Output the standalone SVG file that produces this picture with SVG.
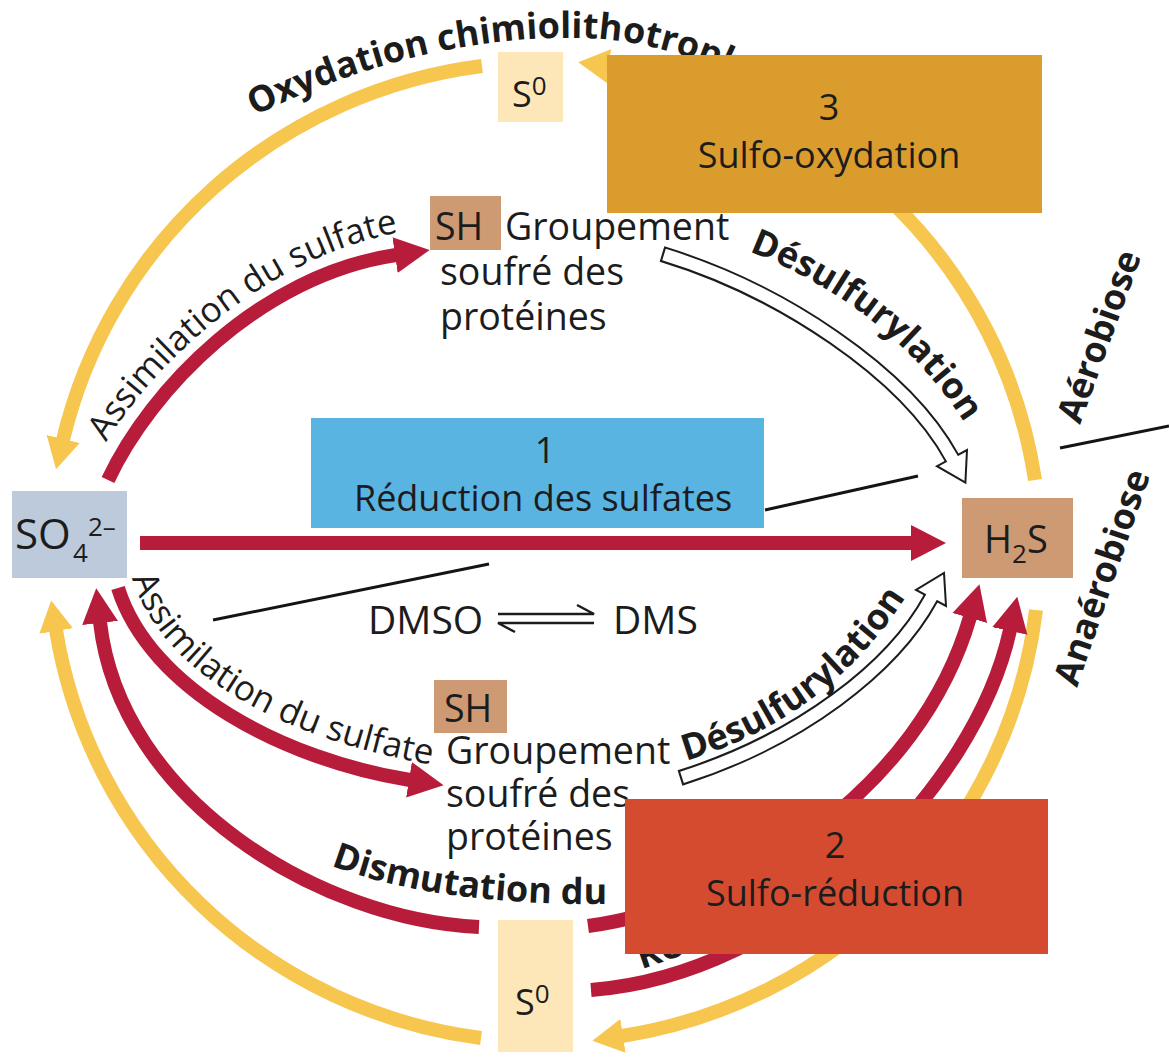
<svg xmlns="http://www.w3.org/2000/svg" width="1169" height="1058" viewBox="0 0 1169 1058">
  <defs>
    <style>
      .txt{font-family:"Open Sans","Noto Sans","Liberation Sans",sans-serif;fill:#1c1c1c}
      .reg{font-size:36px}
      .node{font-size:37.5px}
      .lbl{font-size:35px}
      .bold{font-weight:700;font-size:36px}
      .sub{font-size:26px}
      .arc-y{fill:none;stroke:#f6c64f;stroke-width:14}
      .arc-r{fill:none;stroke:#b71d3a;stroke-width:14}
      .divider{fill:none;stroke:#141414;stroke-width:3}
      .eq{fill:none;stroke:#1c1c1c;stroke-width:2.5}
      .hollow-out{fill:none;stroke:#1c1c1c;stroke-width:16}
      .hollow-in{fill:none;stroke:#ffffff;stroke-width:12}
      .hollow-head{fill:#ffffff;stroke:#1c1c1c;stroke-width:2}
      .pale{fill:#fde6b8}
      .tan{fill:#cd9a74}
    </style>
    <marker id="head-red" markerUnits="userSpaceOnUse" viewBox="-1 -20 37 40" markerWidth="37" markerHeight="40" refX="0" refY="0" orient="auto">
      <path d="M-1,-18 L34,0 L-1,18 Z" fill="#b71d3a"/>
    </marker>
    <marker id="head-yellow" markerUnits="userSpaceOnUse" viewBox="-1 -19 33 38" markerWidth="33" markerHeight="38" refX="0" refY="0" orient="auto">
      <path d="M-1,-17 L30,0 L-1,17 Z" fill="#f6c64f"/>
    </marker>
    <!-- baselines for the curved labels -->
    <path id="p-oxy" d="M230,128 Q410,35 580,38 Q700,40 820,128"/>
    <path id="p-assim-top" d="M90,472 C132,382 257,257 402,232"/>
    <path id="p-assim-bot" d="M132,578 C166,683 300,745 452,768"/>
    <path id="p-dism" d="M300,852 Q420,912 660,903 L820,894"/>
    <path id="p-redu" d="M615,978 Q790,920 1000,830"/>
    <path id="p-desulf-top" d="M745,250 Q898,308 975,440"/>
    <path id="p-desulf-bot" d="M682,762 Q835,718 915,582"/>
  </defs>

  <rect width="1169" height="1058" fill="#ffffff"/>

  <!-- connectors -->
  <g id="connectors">
    <!-- outer cycle -->
    <path class="arc-y" d="M482,66 A495,490 0 0 0 63,440" marker-end="url(#head-yellow)"/>
    <path class="arc-y" d="M1035,480 A495,490 0 0 0 608,66" marker-end="url(#head-yellow)"/>
    <path class="arc-y" d="M1036,610 A495,490 0 0 1 622,1036" marker-end="url(#head-yellow)"/>
    <path class="arc-y" d="M481,1038 A495,490 0 0 1 56,630" marker-end="url(#head-yellow)"/>

    <!-- reductive / assimilatory pathways -->
    <path class="arc-r" d="M140,543 L912,543" marker-end="url(#head-red)"/>
    <path class="arc-r" d="M108,480 C150,390 260,275 396,255" marker-end="url(#head-red)"/>
    <path class="arc-r" d="M118,588 C150,690 285,760 410,780" marker-end="url(#head-red)"/>
    <path class="arc-r" d="M479,927 C320,920 120,800 100,622" marker-end="url(#head-red)"/>
    <path class="arc-r" d="M588,926 C740,905 920,790 970,617" marker-end="url(#head-red)"/>
    <path class="arc-r" d="M591,990 C790,975 975,790 1010,630" marker-end="url(#head-red)"/>

    <!-- desulfurylation (hollow arrows) -->
    <g id="desulf-top">
      <path class="hollow-out" d="M662,254 C780,290 905,372 952,458"/>
      <polygon class="hollow-head" points="967,450 965.4,482.6 937,466.2"/>
      <path class="hollow-in" d="M664,254.6 C780,290 905,372 952,458 L958,469"/>
    </g>
    <g id="desulf-bottom">
      <path class="hollow-out" d="M680,778 C800,740 893,668 931,598"/>
      <polygon class="hollow-head" points="946,606 944,573 916,590"/>
      <path class="hollow-in" d="M682,777.4 C800,740 893,668 931,598 L937,587"/>
    </g>

    <!-- aerobic / anaerobic divide -->
    <line class="divider" x1="213" y1="620" x2="489" y2="564"/>
    <line class="divider" x1="765" y1="510" x2="918" y2="476"/>
    <line class="divider" x1="1060" y1="448" x2="1169" y2="426"/>
  </g>

  <!-- pathway labels -->
  <g id="labels" class="txt">
    <text class="bold" font-size="43"><textPath href="#p-oxy" startOffset="27">Oxydation chimiolithotrophe</textPath></text>
    <text class="lbl"><textPath href="#p-assim-top" startOffset="34">Assimilation du sulfate</textPath></text>
    <text class="lbl"><textPath href="#p-assim-bot" startOffset="0">Assimilation du sulfate</textPath></text>
    <text class="bold" font-size="41.5"><textPath href="#p-dism" startOffset="34">Dismutation du <tspan dx="12">soufre</tspan></textPath></text>
    <text class="bold" font-size="34"><textPath href="#p-redu" startOffset="28">Réduction du soufre</textPath></text>
    <text class="bold" font-size="32"><textPath href="#p-desulf-top" startOffset="4">Désulfurylation</textPath></text>
    <text class="bold" font-size="32"><textPath href="#p-desulf-bot" startOffset="4">Désulfurylation</textPath></text>
    <text class="bold" transform="translate(1080,425) rotate(-70)">Aérobiose</text>
    <text class="bold" transform="translate(1077,688) rotate(-71)">Anaérobiose</text>
  </g>

  <!-- species -->
  <g id="node-so4">
    <rect x="12" y="491" width="115" height="87" fill="#bccadc"/>
    <text class="txt" x="15" y="549" font-size="42">SO</text>
    <text class="txt sub" x="73" y="562">4</text>
    <text class="txt sub" x="88" y="536">2–</text>
  </g>
  <g id="node-h2s">
    <rect x="962" y="498" width="111" height="80" class="tan"/>
    <text class="txt" x="984" y="553" font-size="38">H<tspan class="sub" dy="10">2</tspan><tspan dy="-10">S</tspan></text>
  </g>
  <g id="node-s0-top">
    <rect x="498" y="52" width="65" height="70" class="pale"/>
    <text class="txt reg" x="512" y="107">S<tspan class="sub" dy="-12">0</tspan></text>
  </g>
  <g id="node-s0-bottom">
    <rect x="498" y="920" width="75" height="132" class="pale"/>
    <text class="txt reg" x="515" y="1015">S<tspan class="sub" dy="-12">0</tspan></text>
  </g>
  <g id="node-sh-top">
    <rect x="430" y="196" width="71" height="54" class="tan"/>
    <text class="txt node" x="435" y="240">SH</text>
    <text class="txt node" x="505" y="240">Groupement</text>
    <text class="txt node" x="440" y="285">soufré des</text>
    <text class="txt node" x="440" y="330">protéines</text>
  </g>
  <g id="node-sh-bottom">
    <rect x="434" y="680" width="73" height="53" class="tan"/>
    <text class="txt node" x="444" y="722">SH</text>
    <text class="txt node" x="446" y="764">Groupement</text>
    <text class="txt node" x="446" y="807">soufré des</text>
    <text class="txt node" x="446" y="850">protéines</text>
  </g>
  <g id="dmso-dms">
    <text class="txt" x="368" y="634" font-size="39">DMSO</text>
    <path class="eq" d="M498,614 H594 L577,605"/>
    <path class="eq" d="M594,623 H498 L515,632"/>
    <text class="txt" x="613" y="634" font-size="39">DMS</text>
  </g>

  <!-- process panels -->
  <g id="node-reduction">
    <rect x="311" y="418" width="453" height="110" fill="#5ab4e2"/>
    <text class="txt reg" x="545" y="463" text-anchor="middle">1</text>
    <text class="txt reg" x="543" y="511" text-anchor="middle">Réduction des sulfates</text>
  </g>
  <g id="node-sulfo-oxydation">
    <rect x="607" y="55" width="435" height="158" fill="#da9c2c"/>
    <text class="txt reg" x="829" y="120" text-anchor="middle">3</text>
    <text class="txt reg" x="829" y="168" text-anchor="middle">Sulfo-oxydation</text>
  </g>
  <g id="node-sulfo-reduction">
    <rect x="625" y="799" width="423" height="155" fill="#d54b30"/>
    <text class="txt reg" x="835" y="858" text-anchor="middle">2</text>
    <text class="txt reg" x="835" y="906" text-anchor="middle">Sulfo-réduction</text>
  </g>
</svg>
